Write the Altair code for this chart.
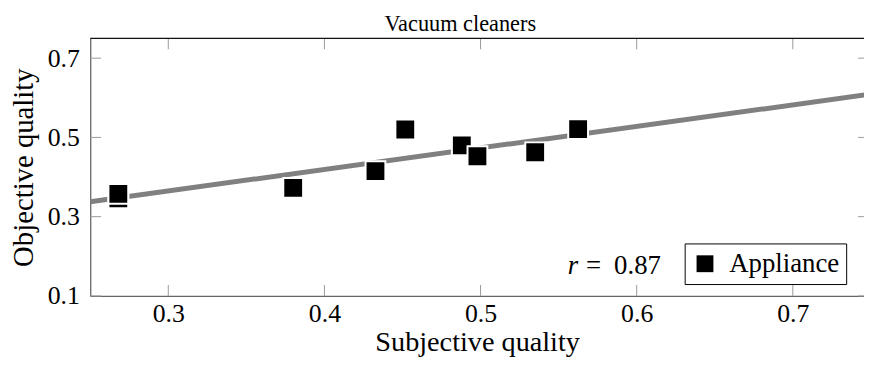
import altair as alt
import pandas as pd
import numpy as np

# ---- data ----
subjective = [0.268, 0.268, 0.380, 0.4327, 0.4518, 0.488, 0.498, 0.535, 0.5625]
objective = [0.346, 0.3575, 0.3725, 0.415, 0.520, 0.480, 0.4525, 0.4625, 0.521]
series = ["Appliance"] * len(subjective)
x_ticks = [0.3, 0.4, 0.5, 0.6, 0.7]
y_ticks = [0.1, 0.3, 0.5, 0.7]
chart_title = "Vacuum cleaners"
x_label = "Subjective quality"
y_label = "Objective quality"

r_value = float(np.corrcoef(subjective, objective)[0, 1])
r_text = f"{r_value:.2f}"

# ---- layout / style ----
FONT = "Liberation Serif"
W, H = 781, 260
TICK = "#9a9a9a"
FRAME = "#666666"

df = pd.DataFrame({"s": subjective, "o": objective, "series": series})

x_scale = alt.Scale(domain=[0.25, 0.7456], nice=False, zero=False)
y_scale = alt.Scale(domain=[0.1, 0.75], nice=False, zero=False)

x_axis = alt.Axis(values=x_ticks, format=".1f", ticks=False, grid=False,
                  domainColor=FRAME, domainWidth=1.3,
                  labelFont=FONT, labelFontSize=26, labelColor="black",
                  labelPadding=5, labelFlush=False, labelOverlap=False,
                  titleFont=FONT, titleFontSize=28.5, titleFontWeight="normal",
                  titleColor="black", titleBaseline="alphabetic", titleY=55)
y_axis = alt.Axis(values=y_ticks, format=".1f", ticks=False, grid=False,
                  domainColor=FRAME, domainWidth=1.3,
                  labelFont=FONT, labelFontSize=26, labelColor="black",
                  labelPadding=11, labelFlush=False, labelOverlap=False,
                  titleFont=FONT, titleFontSize=29, titleFontWeight="normal",
                  titleColor="black", titleBaseline="alphabetic",
                  titleX=-58, titleY=H / 2, titleAngle=270)

X = alt.X("s:Q", scale=x_scale, axis=x_axis, title=x_label)
Y = alt.Y("o:Q", scale=y_scale, axis=y_axis, title=y_label)

base = alt.Chart(df)

reg_line = base.transform_regression("s", "o", extent=[0.25, 0.75]).mark_line(
    color="#808080", strokeWidth=5, clip=True
).encode(x=X, y=Y)

points = base.mark_square(size=400, filled=True, opacity=1, stroke="white",
                          strokeWidth=2).encode(
    x=X, y=Y,
    color=alt.Color("series:N",
                    scale=alt.Scale(domain=["Appliance"], range=["black"]),
                    legend=alt.Legend(title=None, orient="none", legendX=600, legendY=207,
                                      symbolType="square", symbolSize=289,
                                      symbolStrokeWidth=0,
                                      labelFont=FONT, labelFontSize=27, labelColor="black",
                                      labelOffset=11, strokeColor="black", fillColor="white",
                                      padding=7, cornerRadius=0))
)

xt = alt.Chart(pd.DataFrame({"s": x_ticks}))
yt = alt.Chart(pd.DataFrame({"o": y_ticks}))
bottom_ticks = xt.mark_rule(color=TICK, strokeWidth=1).encode(
    x=X, y=alt.value(H - 11), y2=alt.value(H))
top_ticks = xt.mark_rule(color=TICK, strokeWidth=1).encode(
    x=X, y=alt.value(0), y2=alt.value(11))
left_ticks = yt.mark_rule(color=TICK, strokeWidth=1).encode(
    y=Y, x=alt.value(0), x2=alt.value(11))
right_ticks = yt.mark_rule(color=TICK, strokeWidth=1).encode(
    y=Y, x=alt.value(W - 6), x2=alt.value(W))

one = alt.Chart(pd.DataFrame({"t": [r_text], "title": [chart_title]}))
top_border = one.mark_rule(color="#111111", strokeWidth=1.2).encode(
    x=alt.value(0), x2=alt.value(W), y=alt.value(0))

title_text = one.mark_text(font=FONT, fontSize=22.5, align="center",
                           baseline="alphabetic", color="black").encode(
    text="title:N", x=alt.value(373.5), y=alt.value(-7))

r_sym = one.mark_text(font=FONT, fontSize=27, fontStyle="italic", align="left",
                      baseline="alphabetic", color="black").encode(
    text=alt.value("r"), x=alt.value(482), y=alt.value(238))
r_eq = one.mark_text(font=FONT, fontSize=27, align="center",
                     baseline="alphabetic", color="black").encode(
    text=alt.value("="), x=alt.value(508), y=alt.value(238))
r_val = one.mark_text(font=FONT, fontSize=27, align="right",
                      baseline="alphabetic", color="black").encode(
    text="t:N", x=alt.value(576), y=alt.value(238))

chart = alt.layer(
    reg_line, bottom_ticks, top_ticks, left_ticks, right_ticks, top_border,
    points, r_sym, r_eq, r_val, title_text
).properties(
    width=W, height=H,
    autosize=alt.AutoSizeParams(type="none"),
    padding={"left": 83, "top": 29, "right": 0, "bottom": 60},
).configure_view(stroke=None)

chart.save("out.html", embed_options={"renderer": "svg", "actions": False})
